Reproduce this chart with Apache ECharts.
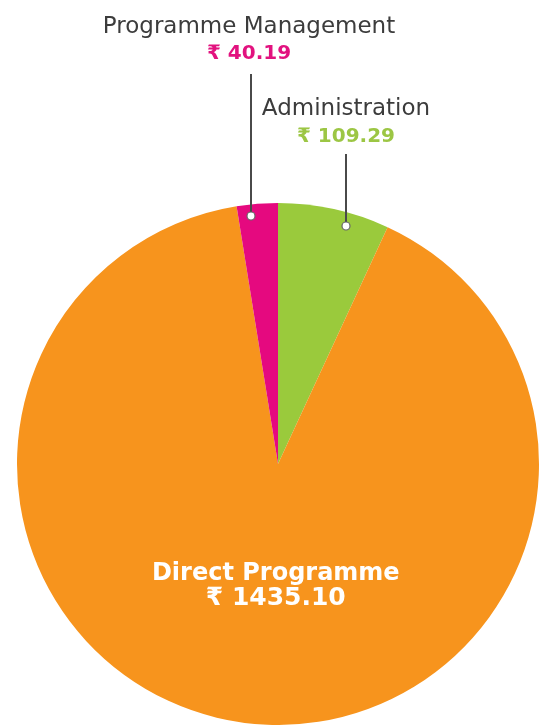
<!DOCTYPE html>
<html>
<head>
<meta charset="utf-8">
<script src="https://cdn.jsdelivr.net/npm/echarts@6/dist/echarts.min.js"></script>
<style>
  html, body { margin: 0; padding: 0; background: #fff; }
  #chart { width: 541px; height: 725px; }
</style>
</head>
<body>
<div id="chart"></div>
<script>
// data, clockwise from 12 o'clock
var names = ['Administration', 'Direct Programme', 'Programme Management'];
var values = [109.29, 1435.10, 40.19];
var colors = ['#9aca3c', '#f7941d', '#e5097f'];
var valueColors = ['#9cc644', '#ffffff', '#e2127f'];

var FONT = '"DejaVu Sans", "Noto Sans", sans-serif';

function fmt(v) { return '\u20b9 ' + v.toFixed(2); }

var chart = echarts.init(document.getElementById('chart'));

var pieData = names.map(function (n, i) {
    var item = {
        name: n,
        value: values[i],
        itemStyle: { color: colors[i] },
        label: { show: false }
    };
    if (i === 1) {
        item.label = {
            show: true,
            position: 'inside',
            formatter: function (p) {
                return '{n|' + p.name + '}\n{v|' + fmt(p.value) + '}';
            },
            rich: {
                n: { color: '#fff', fontFamily: FONT, fontWeight: 'bold', fontSize: 24, lineHeight: 25 },
                v: { color: '#fff', fontFamily: FONT, fontWeight: 'bold', fontSize: 25, lineHeight: 25 }
            }
        };
    }
    return item;
});

// outside callouts (text + leader line + dot)
function callout(idx, cx, ny, vy, lx, ly1, ly2) {
    return [
        { type: 'text', x: cx, y: ny, style: { text: names[idx], fill: '#3c3c3c', font: '23px ' + FONT, textAlign: 'center', textVerticalAlign: 'middle' } },
        { type: 'text', x: cx, y: vy, style: { text: fmt(values[idx]), fill: valueColors[idx], font: 'bold 20px ' + FONT, textAlign: 'center', textVerticalAlign: 'middle' } },
        { type: 'line', shape: { x1: lx, y1: ly1, x2: lx, y2: ly2 }, style: { stroke: '#4a4a4a', lineWidth: 2 }, z: 10 },
        { type: 'circle', shape: { cx: lx, cy: ly2, r: 4 }, style: { fill: '#fff', stroke: '#666', lineWidth: 1.2 }, z: 11 }
    ];
}

var graphics = [].concat(
    callout(2, 249, 27, 54, 251, 74, 216),
    callout(0, 346, 109, 137, 346, 154, 226)
);

var option = {
    backgroundColor: '#fff',
    animation: false,
    series: [{
        type: 'pie',
        center: [278, 464],
        radius: [0, 261],
        startAngle: 90,
        clockwise: true,
        labelLine: { show: false },
        labelLayout: { dx: 16, dy: -10 },
        data: pieData
    }],
    graphic: graphics
};

chart.setOption(option);
</script>
</body>
</html>
